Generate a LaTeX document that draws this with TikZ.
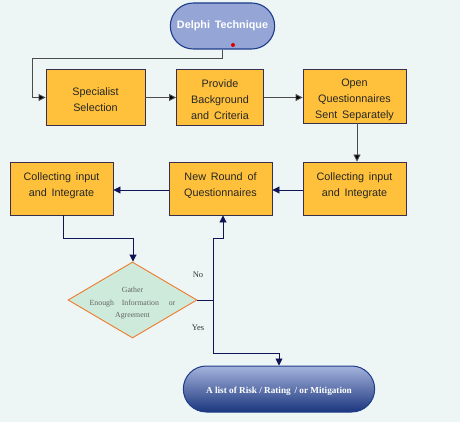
\documentclass[tikz,border=0pt]{standalone}
\usepackage{fontspec}
\setmainfont{Liberation Serif}
\setsansfont{Liberation Sans}
\usetikzlibrary{arrows.meta,shapes.misc,shapes.geometric}
\definecolor{bg}{HTML}{EEF5F5}
\definecolor{boxfill}{HTML}{FFC13B}
\definecolor{boxline}{HTML}{3A2E4E}
\definecolor{navy}{HTML}{0E1455}
\definecolor{pill}{HTML}{95A6D6}
\definecolor{pillline}{HTML}{1E3C8C}
\definecolor{dfill}{HTML}{CDEADA}
\definecolor{dline}{HTML}{EE7A2C}
\newcommand\shiftedtext[2]{\raisebox{#1}[\height][\depth]{\begin{tabular}{@{}c@{}}#2\end{tabular}}}
\begin{document}
\begin{tikzpicture}[x=1pt,y=-1pt,
  stepbox/.style={draw=boxline,line width=0.9pt,fill=boxfill,inner sep=1pt,
    font=\sffamily\fontsize{10.8}{16}\selectfont,align=center,text=black!85},
  grayarrow/.style={draw=black!70,line width=0.9pt,-{Triangle[length=7pt,width=7pt,fill=black]}},
  navyarrow/.style={draw=navy,line width=0.9pt,-{Triangle[length=7pt,width=7pt]}},
  navyline/.style={draw=navy,line width=0.9pt},
  lbl/.style={font=\fontsize{8.5}{9}\selectfont,text=black!80}]
\fill[bg] (0,0) rectangle (460,422);
\useasboundingbox (0,0) rectangle (460,422);
% start
\node[rounded rectangle,draw=pillline,line width=1.1pt,fill=pill,minimum width=111pt,minimum height=46pt,
  text=white,font=\sffamily\bfseries\fontsize{10.8}{12}\selectfont] (start) at (222.5,26) {Delphi\, Technique};
\fill[red!85!black] (233,45) circle (2pt);
% row 1
\node[stepbox,minimum width=99pt,minimum height=56pt] (spec) at (95.5,97) {\shiftedtext{-3.5pt}{Specialist\\Selection}};
\node[stepbox,minimum width=87pt,minimum height=56pt] (prov) at (220,97) {\shiftedtext{-3.5pt}{Provide\\Background\\and\, Criteria}};
\node[stepbox,minimum width=103pt,minimum height=54pt] (open) at (354.5,96) {\shiftedtext{-3.5pt}{Open\\Questionnaires\\Sent\, Separately}};
% row 2
\node[stepbox,minimum width=103pt,minimum height=53pt] (colr) at (354.5,188.5) {\shiftedtext{3pt}{Collecting\, input\\and\, Integrate}};
\node[stepbox,minimum width=103pt,minimum height=53pt] (newr) at (220.5,188.5) {\shiftedtext{3pt}{New\, Round\, of\\Questionnaires}};
\node[stepbox,minimum width=103pt,minimum height=53pt] (coll) at (61.5,188.5) {\shiftedtext{3pt}{Collecting\, input\\and\, Integrate}};
% decision
\node[diamond,draw=dline,line width=0.9pt,fill=dfill,minimum width=129pt,minimum height=76pt,inner sep=-20pt,
  aspect=1.7,align=center,text=black!60,font=\fontsize{7.8}{12.5}\selectfont] (dec) at (132.5,300)
  {\shiftedtext{-2.5pt}{Gather\\Enough\quad Information\quad\ or\\Agreement}};
% end
\node[rounded rectangle,draw=pillline,line width=1pt,top color=pill!85!white,bottom color=pillline!90!black,
  minimum width=198pt,minimum height=46pt,text=white,font=\bfseries\fontsize{9.2}{10}\selectfont] (fin) at (279,389)
  {\raisebox{-2.5pt}[\height][\depth]{A list of Risk / Rating\, / or Mitigation}};
% coordinates
\coordinate (c1) at (222.5,58);
\coordinate (c2) at (32,58);
\coordinate (c3) at (32,97.5);
\coordinate (j) at (213,300);
\coordinate (n1) at (213,238);
\coordinate (n2) at (223,238);
\coordinate (y1) at (213,353);
\coordinate (y2) at (279,353);
\coordinate (l1) at (63,238);
\coordinate (l2) at (133,238);
% connectors
\draw[grayarrow] (start.south -| c1) -- (c1) -- (c2) -- (c3) -- (spec.west |- c3);
\draw[grayarrow] (spec.east |- 0,97.5) -- (prov.west |- 0,97.5);
\draw[grayarrow] (prov.east |- 0,97.5) -- (open.west |- 0,97.5);
\draw[grayarrow] (open.south -| 357,0) -- (colr.north -| 357,0);
\draw[navyarrow] (colr.west |- 0,190) -- (newr.east |- 0,190);
\draw[navyarrow] (newr.west |- 0,190) -- (coll.east |- 0,190);
\draw[navyarrow] (coll.south -| l1) -- (l1) -- (l2) -- (dec.north -| l2);
\draw[navyline] (dec.east) -- (j);
\draw[navyarrow] (j) -- (n1) -- (n2) -- (newr.south -| n2);
\draw[navyarrow] (j) -- (y1) -- (y2) -- (fin.north -| y2);
\node[lbl] (no) at (198,275) {No};
\node[lbl] (yes) at (198,328) {Yes};
\end{tikzpicture}
\end{document}
